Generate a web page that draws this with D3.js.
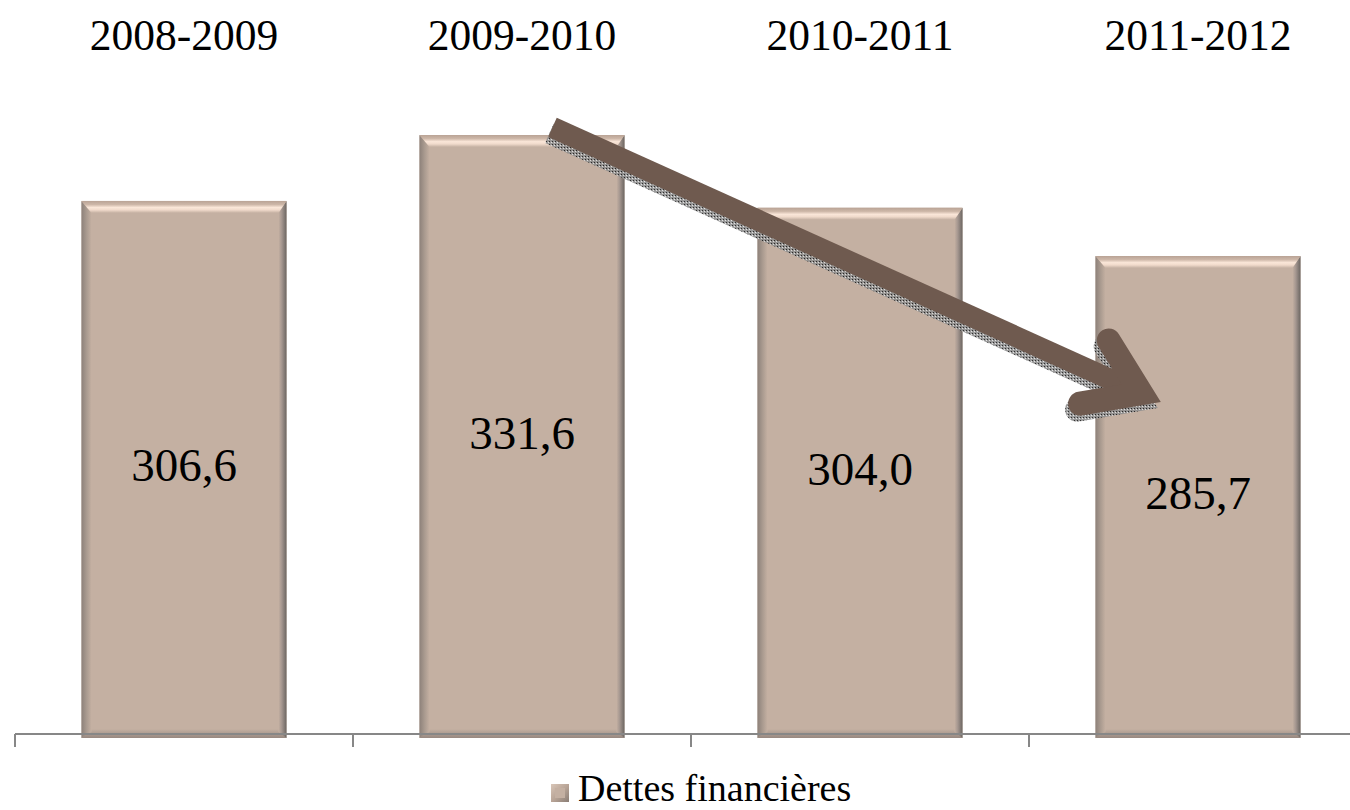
<!DOCTYPE html>
<html>
<head>
<meta charset="utf-8">
<script src="https://cdn.jsdelivr.net/npm/d3@7/dist/d3.min.js"></script>
<style>
  html, body { margin: 0; padding: 0; background: #fff; }
  svg { display: block; }
  text { font-family: "Liberation Serif", "Times New Roman", serif; fill: #000; }
</style>
</head>
<body>
<svg id="chart" width="1350" height="810"></svg>
<script>
// ---- data ----
const categories = ["2008-2009", "2009-2010", "2010-2011", "2011-2012"];
const values = [306.6, 331.6, 304.0, 285.7];
const valueLabels = ["306,6", "331,6", "304,0", "285,7"];
const seriesName = "Dettes financières";
// trend arrow annotation, in data units (category + fraction of band step, value)
const arrowStart = { cat: "2009-2010", frac: 0.59, value: 334.5 };
const arrowTip = { cat: "2011-2012", frac: 0.39, value: 230.3 };

const svg = d3.select("#chart");
const W = 1350, H = 810;
const baseY = 734;

const x = d3.scaleBand().domain(categories).range([15, 1367])
  .paddingInner(0.3935).paddingOuter(0.3935 / 2);
const y = d3.scaleLinear().domain([104.4, 331.6]).range([baseY, 135]);

const defs = svg.append("defs");
function lg(id, x1, y1, x2, y2, stops) {
  const g = defs.append("linearGradient").attr("id", id)
    .attr("x1", x1).attr("y1", y1).attr("x2", x2).attr("y2", y2);
  stops.forEach(s => g.append("stop").attr("offset", s[0]).attr("stop-color", s[1]));
}
const FILL = "#c4b0a2";
lg("gTop", 0, 0, 0, 1, [[0, "#b9a395"], [0.3, "#cdb7a8"], [0.55, "#fae6d8"], [0.75, "#f0dacb"], [1, FILL]]);
lg("gLeft", 0, 0, 1, 0, [[0, "#8d817a"], [0.5, "#a99a8f"], [1, FILL]]);
lg("gRight", 0, 0, 1, 0, [[0, FILL], [0.4, "#a59790"], [1, "#6c6662"]]);
lg("gBottom", 0, 0, 0, 1, [[0, FILL], [1, "#978880"]]);
lg("gLegend", 0, 0, 1, 1, [[0, "#d9c6b8"], [0.5, "#b9a597"], [1, "#8a7d75"]]);

const bw = x.bandwidth();
const bars = svg.append("g").selectAll("g").data(categories).enter().append("g");
const edgeL = 10, edgeR = 8, edgeT = 12, edgeB = 6;
bars.each(function (c, i) {
  const g = d3.select(this);
  const x0 = x(c), x1 = x0 + bw, y0 = y(values[i]), y1 = baseY + 4;
  g.append("rect").attr("x", x0).attr("y", y0).attr("width", bw).attr("height", y1 - y0).attr("fill", FILL);
  g.append("polygon").attr("points", [[x0, y1], [x1, y1], [x1 - edgeR, y1 - edgeB - 3], [x0 + edgeL, y1 - edgeB - 3]].join(" "))
    .attr("fill", "url(#gBottom)");
  g.append("polygon").attr("points", [[x0, y0], [x0 + edgeL, y0 + edgeT], [x0 + edgeL, y1 - edgeB], [x0, y1]].join(" "))
    .attr("fill", "url(#gLeft)");
  g.append("polygon").attr("points", [[x1, y0], [x1 - edgeR, y0 + edgeT], [x1 - edgeR, y1 - edgeB], [x1, y1]].join(" "))
    .attr("fill", "url(#gRight)");
  g.append("polygon").attr("points", [[x0, y0], [x1, y0], [x1 - edgeR, y0 + edgeT], [x0 + edgeL, y0 + edgeT]].join(" "))
    .attr("fill", "url(#gTop)");
  g.append("text").attr("x", x0 + bw / 2).attr("y", (y0 + baseY) / 2 + 14)
    .attr("text-anchor", "middle").attr("font-size", 47).text(valueLabels[i]);
});

// axis
const axis = svg.append("g");
axis.append("line").attr("x1", 15).attr("x2", W).attr("y1", baseY).attr("y2", baseY)
  .attr("stroke", "#878787").attr("stroke-width", 2);
axis.selectAll("line.tick").data(d3.range(categories.length + 1)).enter().append("line")
  .attr("class", "tick")
  .attr("x1", i => 15 + i * x.step()).attr("x2", i => 15 + i * x.step())
  .attr("y1", baseY).attr("y2", baseY + 13)
  .attr("stroke", "#878787").attr("stroke-width", 2);

// category labels on top
svg.append("g").selectAll("text").data(categories).enter().append("text")
  .attr("x", c => x(c) + bw / 2).attr("y", 50)
  .attr("text-anchor", "middle").attr("font-size", 43.5).text(c => c);

// trend arrow
const bandStart = c => 15 + categories.indexOf(c) * x.step();
const S = [bandStart(arrowStart.cat) + x.step() * arrowStart.frac, y(arrowStart.value)];
const T = [bandStart(arrowTip.cat) + x.step() * arrowTip.frac, y(arrowTip.value)];
const ang = Math.atan2(T[1] - S[1], T[0] - S[0]);
const shaftW = 21, headW = 24, barbLen = 62, barbAng = 34 * Math.PI / 180;
const tipBack = (headW / 2) / Math.sin(barbAng);
const Tc = [T[0] - tipBack * Math.cos(ang), T[1] - tipBack * Math.sin(ang)];
const b1 = [Tc[0] - barbLen * Math.cos(ang - barbAng), Tc[1] - barbLen * Math.sin(ang - barbAng)];
const b2 = [Tc[0] - barbLen * Math.cos(ang + barbAng), Tc[1] - barbLen * Math.sin(ang + barbAng)];
const shaftEnd = [Tc[0] - 8 * Math.cos(ang), Tc[1] - 8 * Math.sin(ang)];

function drawArrow(g, color, opacity) {
  g.append("line").attr("x1", S[0]).attr("y1", S[1]).attr("x2", shaftEnd[0]).attr("y2", shaftEnd[1])
    .attr("stroke", color).attr("stroke-width", shaftW).attr("stroke-linecap", "butt").attr("opacity", opacity);
  g.append("path").attr("d", d3.line()([b1, Tc, b2])).attr("fill", "none")
    .attr("stroke", color).attr("stroke-width", headW).attr("stroke-linecap", "round")
    .attr("stroke-linejoin", "miter").attr("stroke-miterlimit", 10).attr("opacity", opacity);
}
const pat = defs.append("pattern").attr("id", "dither").attr("width", 3).attr("height", 3).attr("patternUnits", "userSpaceOnUse");
pat.append("rect").attr("width", 3).attr("height", 3).attr("fill", "#8f8f8f");
pat.append("rect").attr("width", 1).attr("height", 1).attr("fill", "#1a1a1a");
pat.append("rect").attr("x", 2).attr("y", 1).attr("width", 1).attr("height", 1).attr("fill", "#e0e0e0");
const shadow = svg.append("g").attr("transform", "translate(-3,6)");
drawArrow(shadow, "url(#dither)", 0.9);
drawArrow(svg.append("g"), "#6f5a4f", 1);

// legend
const leg = svg.append("g");
leg.append("rect").attr("x", 551).attr("y", 784).attr("width", 18).attr("height", 18).attr("fill", "url(#gLegend)");
leg.append("rect").attr("x", 555).attr("y", 788).attr("width", 10).attr("height", 10).attr("fill", "#c4b0a2");
leg.append("text").attr("x", 578).attr("y", 801).attr("font-size", 38).text(seriesName);
</script>
</body>
</html>
